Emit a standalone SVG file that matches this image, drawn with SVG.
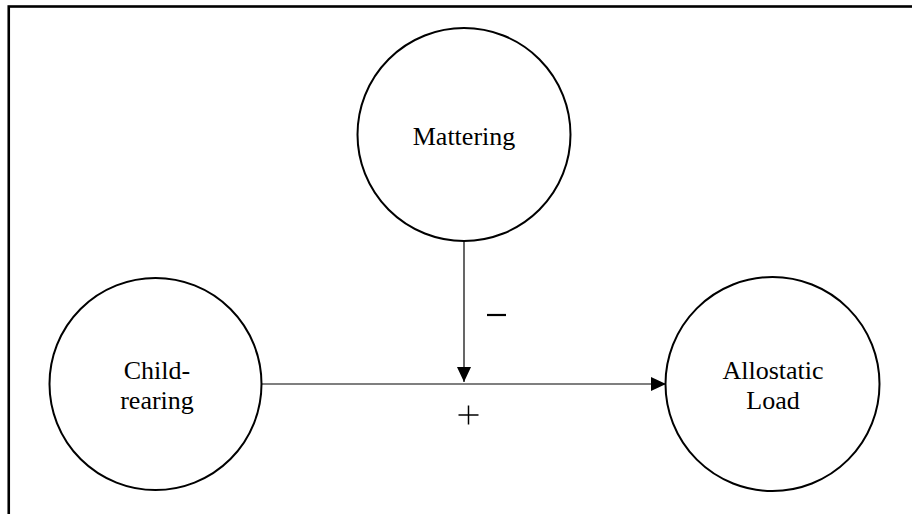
<svg xmlns="http://www.w3.org/2000/svg" width="912" height="514" viewBox="0 0 912 514">
<style>
.node{fill:#fff;stroke:#000;stroke-width:2}
.lbl{font-family:"Liberation Serif","Times New Roman",serif;font-size:26px;fill:#000;text-anchor:middle}
.conn{stroke:#000;stroke-width:1.2;fill:none}
.sign{font-family:"Liberation Serif","Times New Roman",serif;font-size:30px;fill:#000;text-anchor:middle}
</style>
<defs>
<marker id="arr" markerWidth="15" markerHeight="14" refX="15" refY="7" orient="auto" markerUnits="userSpaceOnUse">
<path d="M0,0 L15,7 L0,14 Z" fill="#000"/>
</marker>
</defs>
<rect x="8.75" y="6.5" width="1000" height="1000" fill="#fff" stroke="#000" stroke-width="2.6"/>
<g id="connectors">
<line class="conn" x1="464" y1="241" x2="464" y2="382" marker-end="url(#arr)"/>
<line class="conn" x1="261" y1="384" x2="666" y2="384" marker-end="url(#arr)"/>
<line x1="487" y1="315" x2="506" y2="315" stroke="#000" stroke-width="2.2"/>
<line x1="458.5" y1="415" x2="478.5" y2="415" stroke="#000" stroke-width="1.5"/>
<line x1="468.5" y1="405.5" x2="468.5" y2="424.5" stroke="#000" stroke-width="1.5"/>
</g>
<g id="mattering">
<circle class="node" cx="464" cy="134.5" r="106.5"/>
<text class="lbl" x="464" y="145">Mattering</text>
</g>
<g id="childrearing">
<circle class="node" cx="155.5" cy="384" r="106"/>
<text class="lbl" x="157" y="379">Child-</text>
<text class="lbl" x="157" y="409">rearing</text>
</g>
<g id="allostatic">
<circle class="node" cx="772.5" cy="384" r="107"/>
<text class="lbl" x="773" y="379">Allostatic</text>
<text class="lbl" x="773" y="409">Load</text>
</g>
</svg>
